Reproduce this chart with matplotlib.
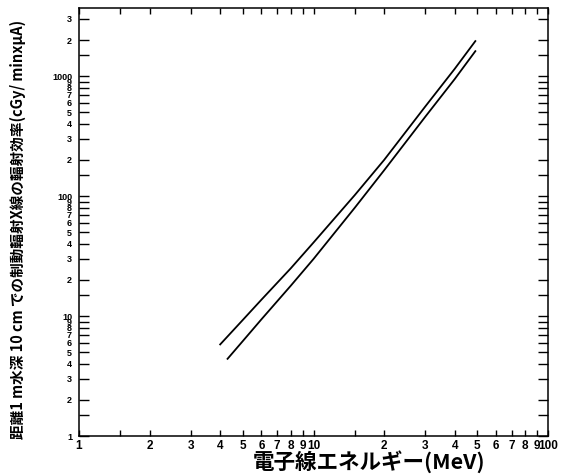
import matplotlib
matplotlib.use("Agg")
import matplotlib.pyplot as plt

# ---- data ----
energy_upper = [4.0, 5.0, 6.0, 8.0, 10.0, 15.0, 20.0, 30.0, 40.0, 49.0]
yield_upper = [5.8, 9.3, 13.7, 25.0, 41.0, 102.0, 200.0, 560.0, 1150.0, 1960.0]

energy_lower = [4.3, 5.0, 6.0, 8.0, 10.0, 15.0, 20.0, 30.0, 40.0, 49.0]
yield_lower = [4.4, 6.2, 9.4, 17.9, 29.9, 80.0, 164.0, 460.0, 945.0, 1616.0]

x_ticks = [1, 1.5, 2, 3, 4, 5, 6, 7, 8, 9, 10, 15, 20, 30, 40, 50, 60, 70, 80, 90, 100]
x_tick_labels = ['1', '', '2', '3', '4', '5', '6', '7', '8', '9', '10', '',
                 '2', '3', '4', '5', '6', '7', '8', '9', '100']
y_ticks = [1, 1.5, 2, 3, 4, 5, 6, 7, 8, 9,
           10, 15, 20, 30, 40, 50, 60, 70, 80, 90,
           100, 150, 200, 300, 400, 500, 600, 700, 800, 900,
           1000, 1500, 2000, 3000]
y_tick_labels = ['1', '', '2', '3', '4', '5', '6', '7', '8', '9',
                 '10', '', '2', '3', '4', '5', '6', '7', '8', '9',
                 '100', '', '2', '3', '4', '5', '6', '7', '8', '9',
                 '1000', '', '2', '3']

x_label = '電子線エネルギー(MeV)'
y_label = '距離1 m水深 10 cm での制動輻射X線の輻射効率(cGy/ minxμA)'

cjk = ['Noto Sans CJK JP', 'DejaVu Sans']

fig = plt.figure(figsize=(5.72, 4.76), dpi=100)
ax = fig.add_axes([79 / 572, 1 - 436 / 476, (548 - 79) / 572, (436 - 8) / 476])

ax.plot(energy_upper, yield_upper, color='black', lw=1.3)
ax.plot(energy_lower, yield_lower, color='black', lw=1.3)

ax.set_xscale('log')
ax.set_yscale('log')
ax.set_xlim(1, 100)
ax.set_ylim(1, 3700)

ax.xaxis.set_major_locator(matplotlib.ticker.FixedLocator(x_ticks))
ax.xaxis.set_major_formatter(matplotlib.ticker.FixedFormatter(x_tick_labels))
ax.yaxis.set_major_locator(matplotlib.ticker.FixedLocator(y_ticks))
ax.yaxis.set_major_formatter(matplotlib.ticker.FixedFormatter(y_tick_labels))
ax.xaxis.set_minor_locator(matplotlib.ticker.NullLocator())
ax.yaxis.set_minor_locator(matplotlib.ticker.NullLocator())

ax.tick_params(axis='x', which='major', direction='in', length=4, width=1.0,
               top=True, bottom=True, pad=3)
ax.tick_params(axis='y', which='major', direction='in', length=7, width=1.0,
               left=True, right=True, pad=5)
for lab in ax.get_xticklabels():
    lab.set_fontfamily('Liberation Sans')
    lab.set_fontweight('bold')
    lab.set_fontsize(8.5)
for lab in ax.get_yticklabels():
    lab.set_fontfamily('Liberation Sans')
    lab.set_fontweight('bold')
    lab.set_fontsize(6.5)

for sp in ax.spines.values():
    sp.set_linewidth(1.1)

fig.text(369 / 572, 1 - 462 / 476, x_label, ha='center', va='center',
         fontsize=15.5, fontweight='bold', family=cjk)
fig.text(18 / 572, 1 - 229 / 476, y_label, ha='center', va='center',
         rotation=90, fontsize=10.5, fontweight='bold', family=cjk)

fig.savefig('out.png', dpi=100)
